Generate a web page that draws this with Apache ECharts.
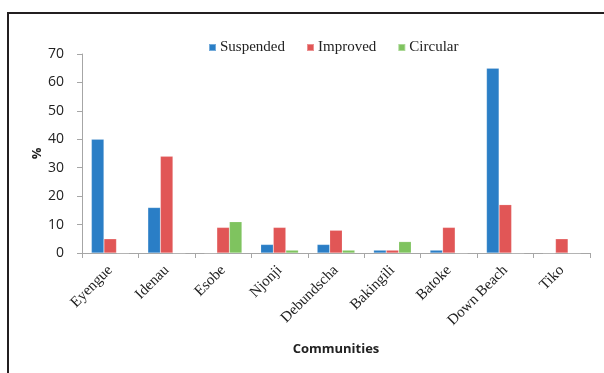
<!DOCTYPE html>
<html><head><meta charset="utf-8">
<script src="https://cdn.jsdelivr.net/npm/echarts@6/dist/echarts.min.js"></script>
<style>html,body{margin:0;padding:0;background:#fff}#c{width:604px;height:373px}</style>
</head><body><div id="c"></div>
<script>
const categories = ['Eyengue','Idenau','Esobe','Njonji','Debundscha','Bakingili','Batoke','Down Beach','Tiko'];
const suspended = [40,16,0,3,3,1,1,65,0];
const improved = [5,34,9,9,8,1,9,17,5];
const circular = [0,0,11,1,1,4,0,0,0];
const yTicks = [0,10,20,30,40,50,60,70];

const chart = echarts.init(document.getElementById('c'));
const sansFont = '"Open Sans", "Liberation Sans", sans-serif';
const serifFont = '"Liberation Serif", "DejaVu Serif", serif';
function bar(name, data, color){
  return {name, type:'bar', data, barGap:'0%', barCategoryGap:'33.3%',
    itemStyle:{color, borderColor:'rgba(255,255,255,0.35)', borderWidth:0.5}};
}
chart.setOption({
  animation:false,
  graphic:[{type:'rect', shape:{x:8,y:13,width:604,height:370}, style:{fill:'none', stroke:'#231f20', lineWidth:2}}],
  legend:{top:35, left:203, itemWidth:7, itemHeight:7, itemGap:21,
    icon:'rect', textStyle:{fontFamily:serifFont, fontSize:15, color:'#222', padding:[0,0,0,-1]},
    data:['Suspended','Improved','Circular']},
  grid:{left:82, right:14, top:54, bottom:120},
  xAxis:{type:'category', data:categories, name:'Communities', nameLocation:'middle', nameGap:90,
    nameMoveOverlap:false,
    nameTextStyle:{fontFamily:sansFont, fontWeight:'bold', fontSize:13, color:'#222'},
    axisLine:{lineStyle:{color:'#a6a6a6'}}, axisTick:{show:true, alignWithLabel:false, length:5, lineStyle:{color:'#a6a6a6'}},
    axisLabel:{rotate:45, fontFamily:serifFont, fontSize:15, color:'#222', margin:15, interval:0}},
  yAxis:{type:'value', min:0, max:70, interval:10, name:'%', nameLocation:'middle', nameGap:38, nameRotate:90,
    nameMoveOverlap:false,
    nameTextStyle:{fontFamily:sansFont, fontWeight:'bold', fontSize:13, color:'#222'},
    axisLine:{show:true, lineStyle:{color:'#a6a6a6'}}, axisTick:{show:true, length:5, lineStyle:{color:'#a6a6a6'}},
    splitLine:{show:false},
    axisLabel:{fontFamily:sansFont, fontSize:14, color:'#222', margin:18,
      formatter:v=>yTicks.includes(v)?String(v):''}},
  series:[bar('Suspended',suspended,'#2a7ec6'), bar('Improved',improved,'#e15656'), bar('Circular',circular,'#7fc35f')]
});
</script></body></html>
